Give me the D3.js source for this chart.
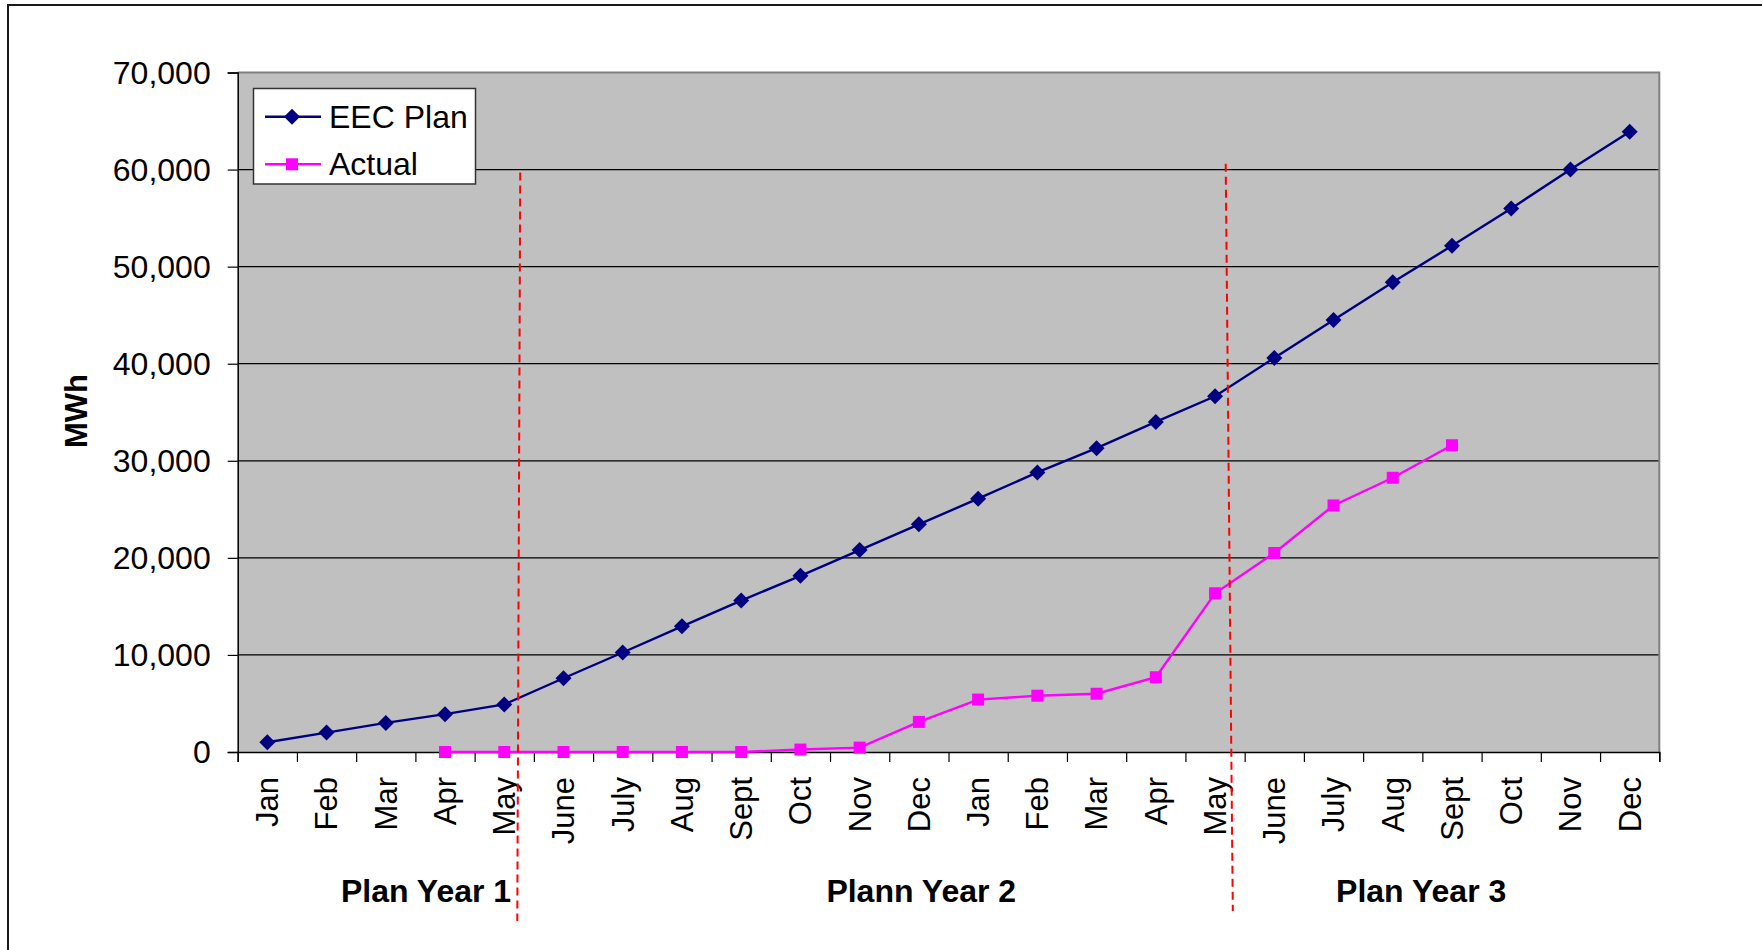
<!DOCTYPE html>
<html>
<head>
<meta charset="utf-8">
<script src="https://cdn.jsdelivr.net/npm/d3@7/dist/d3.min.js"></script>
<style>
  html, body { margin: 0; padding: 0; background: #fff; }
  svg { display: block; font-family: "Liberation Sans", Arial, sans-serif; }
</style>
</head>
<body>
<svg id="chart" width="1762" height="950"></svg>
<script>
// ---- data ----
const months = ["Jan","Feb","Mar","Apr","May","June","July","Aug","Sept","Oct","Nov","Dec",
                "Jan","Feb","Mar","Apr","May","June","July","Aug","Sept","Oct","Nov","Dec"];
const eecPlan = [1000, 2000, 3000, 3900, 4900, 7600, 10250, 12950, 15600, 18150, 20800, 23450,
                 26100, 28800, 31300, 34000, 36650, 40600, 44500, 48400, 52150, 56000, 60000, 63900];
const actual = [null, null, null, 0, 0, 0, 0, 0, 0, 250, 450, 3100,
                5400, 5800, 6000, 7700, 16350, 20500, 25400, 28250, 31600, null, null, null];
const yTicks = [0, 10000, 20000, 30000, 40000, 50000, 60000, 70000];
const seriesNames = ["EEC Plan", "Actual"];
const yearLabels = ["Plan Year 1", "Plann Year 2", "Plan Year 3"];
const yearLabelPos = [3.18, 11.54, 19.98];          // in category units
const dividerTop = [4.77, 16.68];                   // category units at top end
const dividerBottom = [4.72, 16.80];                // category units at bottom end
const dividerTopValue = [59700, 60600];

// ---- layout ----
const svg = d3.select("#chart");
const L = 237.7, R = 1659.3, T = 72.5, B = 752;
const x = d3.scaleLinear().domain([0, months.length]).range([L, R]);
const y = d3.scaleLinear().domain([0, 70000]).range([B, T]);
const navy = "#000080", magenta = "#FF00FF";

// outer frame
svg.append("path").attr("d", `M8,960 L8,5 L1780,5`)
  .attr("fill", "none").attr("stroke", "#1a1a1a").attr("stroke-width", 2);

// plot background
svg.append("rect").attr("x", L).attr("y", T).attr("width", R - L).attr("height", B - T)
  .attr("fill", "#C0C0C0");

// gridlines
svg.append("g").selectAll("line").data(yTicks.filter(d => d > 0 && d < 70000)).join("line")
  .attr("x1", L).attr("x2", R).attr("y1", d => y(d)).attr("y2", d => y(d))
  .attr("stroke", "#000").attr("stroke-width", 1.2);

// plot border (top/right gray)
svg.append("path").attr("d", `M${L},${T} L${R},${T} L${R},${B}`)
  .attr("fill", "none").attr("stroke", "#808080").attr("stroke-width", 2);

// y axis
const yAxis = d3.axisLeft(y).tickValues(yTicks).tickSize(10).tickPadding(17)
  .tickFormat(d3.format(","));
const gy = svg.append("g").attr("transform", `translate(${L},0)`).call(yAxis);
gy.select(".domain").attr("stroke", "#000").attr("stroke-width", 1.5);
gy.selectAll(".tick line").attr("stroke", "#000").attr("stroke-width", 1.2);
gy.selectAll(".tick text").attr("font-size", 32).attr("fill", "#000")
  .attr("font-family", "Liberation Sans, Arial, sans-serif").attr("dy", "0.34em");

// x axis (ticks at category boundaries)
const boundaries = d3.range(0, months.length + 1);
const xAxis = d3.axisBottom(x).tickValues(boundaries).tickSize(10).tickFormat("");
const gx = svg.append("g").attr("transform", `translate(0,${B})`).call(xAxis);
gx.select(".domain").attr("stroke", "#000").attr("stroke-width", 1.5);
gx.selectAll(".tick line").attr("stroke", "#000").attr("stroke-width", 1.2);

// x labels rotated
svg.append("g").selectAll("text").data(months).join("text")
  .attr("transform", (d, i) => `translate(${x(i + 0.5)},${B + 25}) rotate(-90)`)
  .attr("text-anchor", "end").attr("dy", "0.35em")
  .attr("font-size", 31).attr("fill", "#000").text(d => d);

// y axis title
svg.append("text").attr("transform", `translate(76,411) rotate(-90)`)
  .attr("text-anchor", "middle").attr("dy", "0.36em")
  .attr("font-size", 31).attr("font-weight", "bold").text("MWh");

// year labels
svg.append("g").selectAll("text").data(yearLabels).join("text")
  .attr("x", (d, i) => x(yearLabelPos[i])).attr("y", 902)
  .attr("text-anchor", "middle").attr("font-size", 32).attr("font-weight", "bold")
  .text(d => d);

// lines
const lineGen = d3.line().defined(d => d != null).x((d, i) => x(i + 0.5)).y(d => y(d));
svg.append("path").datum(eecPlan).attr("d", lineGen)
  .attr("fill", "none").attr("stroke", navy).attr("stroke-width", 2.4);
svg.append("path").datum(actual).attr("d", lineGen)
  .attr("fill", "none").attr("stroke", magenta).attr("stroke-width", 2.4);

// dashed dividers
svg.append("g").selectAll("line").data(dividerTop).join("line")
  .attr("x1", (d, i) => x(d)).attr("y1", (d, i) => y(dividerTopValue[i]))
  .attr("x2", (d, i) => x(dividerBottom[i])).attr("y2", (d, i) => i === 0 ? 921 : 911)
  .attr("stroke", "#FF0000").attr("stroke-width", 2).attr("stroke-dasharray", "8,5");

// markers
const diamond = (cx, cy, r) => `M${cx},${cy - r}L${cx + r},${cy}L${cx},${cy + r}L${cx - r},${cy}Z`;
svg.append("g").selectAll("path").data(eecPlan.map((v, i) => [i, v])).join("path")
  .attr("d", d => diamond(x(d[0] + 0.5), y(d[1]), 8)).attr("fill", navy);
svg.append("g").selectAll("rect").data(actual.map((v, i) => [i, v]).filter(d => d[1] != null)).join("rect")
  .attr("x", d => x(d[0] + 0.5) - 6).attr("y", d => y(d[1]) - 6)
  .attr("width", 12).attr("height", 12).attr("fill", magenta);

// legend
const lg = svg.append("g");
lg.append("rect").attr("x", 253.5).attr("y", 88.5).attr("width", 222).attr("height", 95.5)
  .attr("fill", "#fff").attr("stroke", "#333").attr("stroke-width", 1.5);
const legY = [116.7, 164.3];
const legCol = [navy, magenta];
seriesNames.forEach((name, i) => {
  lg.append("line").attr("x1", 265).attr("x2", 321).attr("y1", legY[i]).attr("y2", legY[i])
    .attr("stroke", legCol[i]).attr("stroke-width", 2.4);
  if (i === 0) lg.append("path").attr("d", diamond(292, legY[i], 8)).attr("fill", navy);
  else lg.append("rect").attr("x", 292 - 6).attr("y", legY[i] - 6).attr("width", 12).attr("height", 12).attr("fill", magenta);
  lg.append("text").attr("x", 329).attr("y", legY[i]).attr("dy", "0.34em")
    .attr("font-size", 32).attr("fill", "#000").text(name);
});
</script>
</body>
</html>
